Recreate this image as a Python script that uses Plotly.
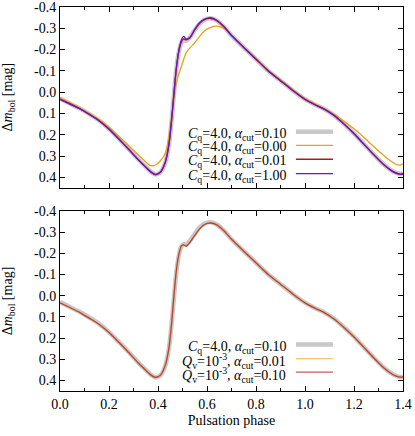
import plotly.graph_objects as go

# pulsation phase grid shared by all model curves
PHASE = [0.00, 0.04, 0.08, 0.12, 0.16, 0.20, 0.24, 0.28, 0.32, 0.35,
         0.37, 0.39, 0.41, 0.43, 0.445, 0.455, 0.465, 0.475, 0.485, 0.495,
         0.505, 0.515, 0.53, 0.55, 0.57, 0.59, 0.615, 0.64, 0.67, 0.70,
         0.75, 0.80, 0.85, 0.90, 0.95, 1.00, 1.04, 1.08, 1.12, 1.16,
         1.20, 1.24, 1.28, 1.32, 1.35, 1.37, 1.39, 1.40]

# bolometric magnitude variation (mag)
CQ4_A010 = [0.030, 0.053, 0.076, 0.103, 0.133, 0.172, 0.218, 0.266, 0.316, 0.350,
            0.372, 0.386, 0.376, 0.330, 0.245, 0.140, 0.010, -0.110, -0.190, -0.230,
            -0.243, -0.242, -0.258, -0.292, -0.322, -0.340, -0.347, -0.336, -0.306, -0.266,
            -0.210, -0.155, -0.100, -0.054, -0.008, 0.033, 0.058, 0.080, 0.110, 0.150,
            0.194, 0.243, 0.292, 0.338, 0.365, 0.378, 0.384, 0.382]
CQ4_A000 = [0.025, 0.050, 0.073, 0.100, 0.130, 0.165, 0.207, 0.250, 0.295, 0.328,
            0.345, 0.342, 0.322, 0.285, 0.210, 0.125, 0.030, -0.045, -0.085, -0.120,
            -0.155, -0.185, -0.208, -0.232, -0.262, -0.288, -0.304, -0.310, -0.298, -0.268,
            -0.212, -0.157, -0.104, -0.058, -0.013, 0.030, 0.055, 0.078, 0.105, 0.137,
            0.172, 0.212, 0.255, 0.296, 0.323, 0.338, 0.342, 0.336]
CQ4_A001 = [0.032, 0.054, 0.077, 0.104, 0.134, 0.173, 0.219, 0.267, 0.317, 0.351,
            0.373, 0.386, 0.375, 0.328, 0.243, 0.138, 0.008, -0.112, -0.192, -0.235,
            -0.250, -0.246, -0.257, -0.292, -0.323, -0.341, -0.346, -0.336, -0.306, -0.266,
            -0.210, -0.155, -0.100, -0.054, -0.008, 0.033, 0.058, 0.080, 0.110, 0.150,
            0.194, 0.243, 0.292, 0.338, 0.365, 0.378, 0.385, 0.383]
CQ4_A100 = [0.035, 0.056, 0.078, 0.105, 0.135, 0.174, 0.220, 0.268, 0.318, 0.353,
            0.375, 0.388, 0.376, 0.328, 0.242, 0.135, 0.005, -0.115, -0.195, -0.245,
            -0.262, -0.250, -0.255, -0.295, -0.326, -0.343, -0.350, -0.338, -0.307, -0.267,
            -0.210, -0.155, -0.100, -0.054, -0.008, 0.034, 0.059, 0.081, 0.111, 0.151,
            0.195, 0.244, 0.293, 0.339, 0.367, 0.380, 0.386, 0.384]
QV3_A001 = [0.034, 0.056, 0.079, 0.107, 0.136, 0.174, 0.220, 0.268, 0.318, 0.352,
            0.374, 0.386, 0.375, 0.328, 0.243, 0.137, 0.000, -0.120, -0.195, -0.234,
            -0.240, -0.234, -0.252, -0.285, -0.316, -0.336, -0.343, -0.334, -0.305, -0.266,
            -0.210, -0.155, -0.100, -0.054, -0.008, 0.034, 0.059, 0.081, 0.111, 0.151,
            0.195, 0.244, 0.293, 0.339, 0.366, 0.379, 0.385, 0.383]
QV3_A010 = [0.034, 0.056, 0.079, 0.107, 0.136, 0.174, 0.220, 0.268, 0.318, 0.352,
            0.374, 0.386, 0.375, 0.328, 0.243, 0.137, 0.000, -0.120, -0.195, -0.235,
            -0.240, -0.233, -0.251, -0.284, -0.315, -0.336, -0.343, -0.334, -0.305, -0.266,
            -0.210, -0.155, -0.100, -0.054, -0.008, 0.034, 0.059, 0.081, 0.111, 0.151,
            0.195, 0.244, 0.293, 0.339, 0.366, 0.379, 0.385, 0.383]

TOP_LABELS = ["<i>C</i><sub>q</sub>=4.0, <i>α</i><sub>cut</sub>=0.10",
              "<i>C</i><sub>q</sub>=4.0, <i>α</i><sub>cut</sub>=0.00",
              "<i>C</i><sub>q</sub>=4.0, <i>α</i><sub>cut</sub>=0.01",
              "<i>C</i><sub>q</sub>=4.0, <i>α</i><sub>cut</sub>=1.00"]
BOT_LABELS = ["<i>C</i><sub>q</sub>=4.0, <i>α</i><sub>cut</sub>=0.10",
              "<i>Q</i><sub>v</sub>=10<sup>-3</sup>, <i>α</i><sub>cut</sub>=0.01",
              "<i>Q</i><sub>v</sub>=10<sup>-3</sup>, <i>α</i><sub>cut</sub>=0.10"]
YTITLE = "Δ<i>m</i><sub>bol</sub> [mag]"
XTITLE = "Pulsation phase"

YTICKS = [-0.4, -0.3, -0.2, -0.1, 0.0, 0.1, 0.2, 0.3, 0.4]
YTICKTEXT = ["-0.4", "-0.3", "-0.2", "-0.1", "0.0", "0.1", "0.2", "0.3", "0.4"]
XTICKS = [0.0, 0.2, 0.4, 0.6, 0.8, 1.0, 1.2, 1.4]

GRAY = "#c8c8c8"
ORANGE = "#e6a118"
RED = "#b2161a"
PURPLE = "#7412c4"
FONT = "Liberation Serif, Times New Roman, serif"

fig = go.Figure()

top = [(CQ4_A010, GRAY, 4.5, 1.0), (CQ4_A000, ORANGE, 1.3, 1.0),
       (CQ4_A001, RED, 1.3, 1.0), (CQ4_A100, PURPLE, 1.3, 1.0)]
bot = [(CQ4_A010, GRAY, 4.5, 1.0), (QV3_A001, ORANGE, 1.3, 0.6),
       (QV3_A010, RED, 1.3, 0.7)]

for ys, col, w, op in top:
    fig.add_trace(go.Scatter(x=PHASE, y=ys, mode="lines", xaxis="x", yaxis="y",
                             line=dict(color=col, width=w, shape="spline", smoothing=0.6),
                             opacity=op, showlegend=False, hoverinfo="skip"))
for ys, col, w, op in bot:
    fig.add_trace(go.Scatter(x=PHASE, y=ys, mode="lines", xaxis="x2", yaxis="y2",
                             line=dict(color=col, width=w, shape="spline", smoothing=0.6),
                             opacity=op, showlegend=False, hoverinfo="skip"))

# gnuplot-style key: right-aligned text with the line sample on its right
annotations = []
shapes = []
for labels, items, rows, xr, yr in [(TOP_LABELS, top, [0.186, 0.250, 0.315, 0.382], "x", "y"),
                                   (BOT_LABELS, bot, [0.231, 0.297, 0.361], "x2", "y2")]:
    for lab, (ys, col, w, op), r in zip(labels, items, rows):
        annotations.append(dict(x=0.931, y=r + 0.012, xref=xr, yref=yr, text=lab,
                                showarrow=False, xanchor="right", yanchor="middle",
                                font=dict(family=FONT, size=14, color="black")))
        shapes.append(dict(type="line", xref=xr, yref=yr, x0=0.963, x1=1.114, y0=r, y1=r,
                           line=dict(color=col, width=w), opacity=op))

# y titles placed by hand, further out than plotly would put them
for yc in (0.766, 0.235):
    annotations.append(dict(x=-0.15, y=yc, xref="paper", yref="paper", text=YTITLE,
                            textangle=-90, showarrow=False, xanchor="center",
                            yanchor="middle", font=dict(family=FONT, size=14, color="black")))

axis_common = dict(showline=True, linecolor="black", linewidth=1, mirror="allticks",
                   ticks="inside", ticklen=5, tickcolor="black", showgrid=False,
                   zeroline=False, automargin=False, ticklabeloverflow="allow",
                   tickfont=dict(family=FONT, size=14, color="black"))

yaxis_common = dict(axis_common, range=[0.45, -0.4], tickvals=YTICKS, ticktext=YTICKTEXT)

xaxis_common = dict(axis_common, range=[0.0, 1.4], tickvals=XTICKS,
                    minor=dict(dtick=0.1, ticks="inside", ticklen=3, tickcolor="black"))

fig.update_layout(
    width=415, height=436,
    margin=dict(l=60, r=12, t=7, b=45),
    paper_bgcolor="white", plot_bgcolor="white",
    xaxis=dict(xaxis_common, anchor="y", showticklabels=False),
    yaxis=dict(yaxis_common, domain=[0.5286, 1.0], anchor="x"),
    xaxis2=dict(xaxis_common, anchor="y2", tickformat=".1f",
                title=dict(text=XTITLE, standoff=4,
                           font=dict(family=FONT, size=14, color="black"))),
    yaxis2=dict(yaxis_common, domain=[0.0, 0.469], anchor="x2"),
    annotations=annotations,
    shapes=shapes,
)

# the page's default body margin would shift the figure by 8 px
fig.write_html("out.html", config={"displayModeBar": False},
               post_script="document.body.style.margin='0';")
